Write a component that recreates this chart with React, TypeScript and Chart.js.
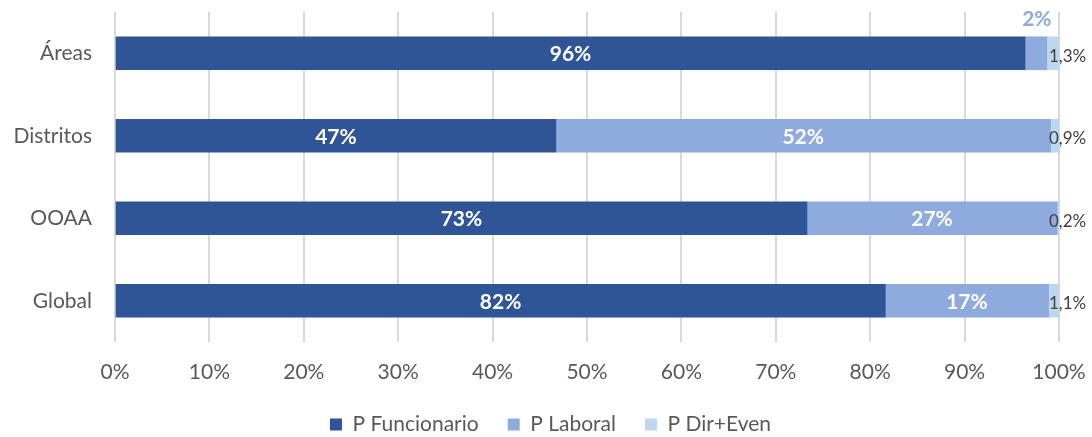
import React, { useEffect, useRef } from "react";
import { Chart, registerables } from "chart.js";

Chart.register(...registerables);

const categories = ["Áreas", "Distritos", "OOAA", "Global"];
const funcionario = [96.4, 46.7, 73.3, 81.6];
const laboral = [2.3, 52.4, 26.5, 17.3];
const dirEven = [1.3, 0.9, 0.2, 1.1];
const xTicks = ["0%", "10%", "20%", "30%", "40%", "50%", "60%", "70%", "80%", "90%", "100%"];

const FONT = "Lato, 'Open Sans', sans-serif";
const COLORS = ["#2f5597", "#8faadc", "#bdd7ee"];

const labelPlugin = {
  id: "barLabels",
  afterLayout(chart: any) {
    if (chart.legend) {
      chart.legend.left += 21;
      chart.legend.right += 21;
    }
  },
  afterDatasetsDraw(chart: any) {
    const ctx = chart.ctx;
    ctx.save();
    chart.data.datasets.forEach((ds: any, di: number) => {
      const meta = chart.getDatasetMeta(di);
      meta.data.forEach((el: any, i: number) => {
        const v = ds.data[i] as number;
        const { x, y, base, height } = el.getProps(["x", "y", "base", "height"], true);
        if (di < 2) {
          const txt = Math.round(v) + "%";
          ctx.font = `bold 21px ${FONT}`;
          ctx.textAlign = "center";
          ctx.textBaseline = "middle";
          const w = Math.abs(x - base);
          if (w < 40) {
            ctx.fillStyle = COLORS[1];
            ctx.fillText(txt, (x + base) / 2 + 1, y - height / 2 - 18);
          } else {
            ctx.fillStyle = "#ffffff";
            ctx.fillText(txt, (x + base) / 2, y + 1);
          }
        } else {
          const txt = v.toFixed(1).replace(".", ",");
          ctx.font = `17px ${FONT}`;
          ctx.textAlign = "left";
          ctx.textBaseline = "middle";
          ctx.fillStyle = "#404040";
          ctx.fillText(txt + "%", x - 10, y + 3);
        }
      });
    });
    ctx.restore();
  },
};

export default function App() {
  const ref = useRef<HTMLCanvasElement>(null);
  useEffect(() => {
    const chart = new Chart(ref.current!, {
      type: "bar",
      data: {
        labels: categories,
        datasets: [
          { label: "P Funcionario", data: funcionario, backgroundColor: COLORS[0] },
          { label: "P Laboral", data: laboral, backgroundColor: COLORS[1] },
          { label: "P Dir+Even", data: dirEven, backgroundColor: COLORS[2] },
        ],
      },
      options: {
        indexAxis: "y",
        animation: false,
        responsive: false,
        maintainAspectRatio: false,
        layout: { padding: { top: 12, right: 33, left: 0, bottom: -8 } },
        datasets: { bar: { barThickness: 33 } },
        scales: {
          x: {
            stacked: true,
            min: 0,
            max: 100,
            grid: { color: "#d9d9d9", lineWidth: 2, drawTicks: false },
            border: { display: false },
            ticks: {
              stepSize: 10,
              padding: 18,
              color: "#595959",
              font: { family: FONT, size: 21 },
              callback: (_v: any, i: number) => xTicks[i],
            },
            afterFit: (s: any) => {
              s.height = 43;
              s.paddingLeft = 0;
              s.paddingRight = 0;
            },
          },
          y: {
            stacked: true,
            grid: { display: false, drawTicks: false },
            border: { display: false },
            ticks: { color: "#595959", font: { family: FONT, size: 21 }, padding: 23 },
            afterFit: (s: any) => {
              s.width = 115;
              s.paddingTop = 0;
              s.paddingBottom = 0;
            },
          },
        },
        plugins: {
          tooltip: { enabled: false },
          legend: {
            position: "bottom",
            labels: {
              boxWidth: 12,
              boxHeight: 12,
              padding: 29,
              color: "#595959",
              font: { family: FONT, size: 21 },
            },
          },
        },
      },
      plugins: [labelPlugin],
    });
    return () => chart.destroy();
  }, []);
  return (
    <div style={{ position: "absolute", left: 0, top: 0, width: 1092, height: 437, background: "#fff" }}>
      <canvas ref={ref} width={1092} height={437} />
    </div>
  );
}
